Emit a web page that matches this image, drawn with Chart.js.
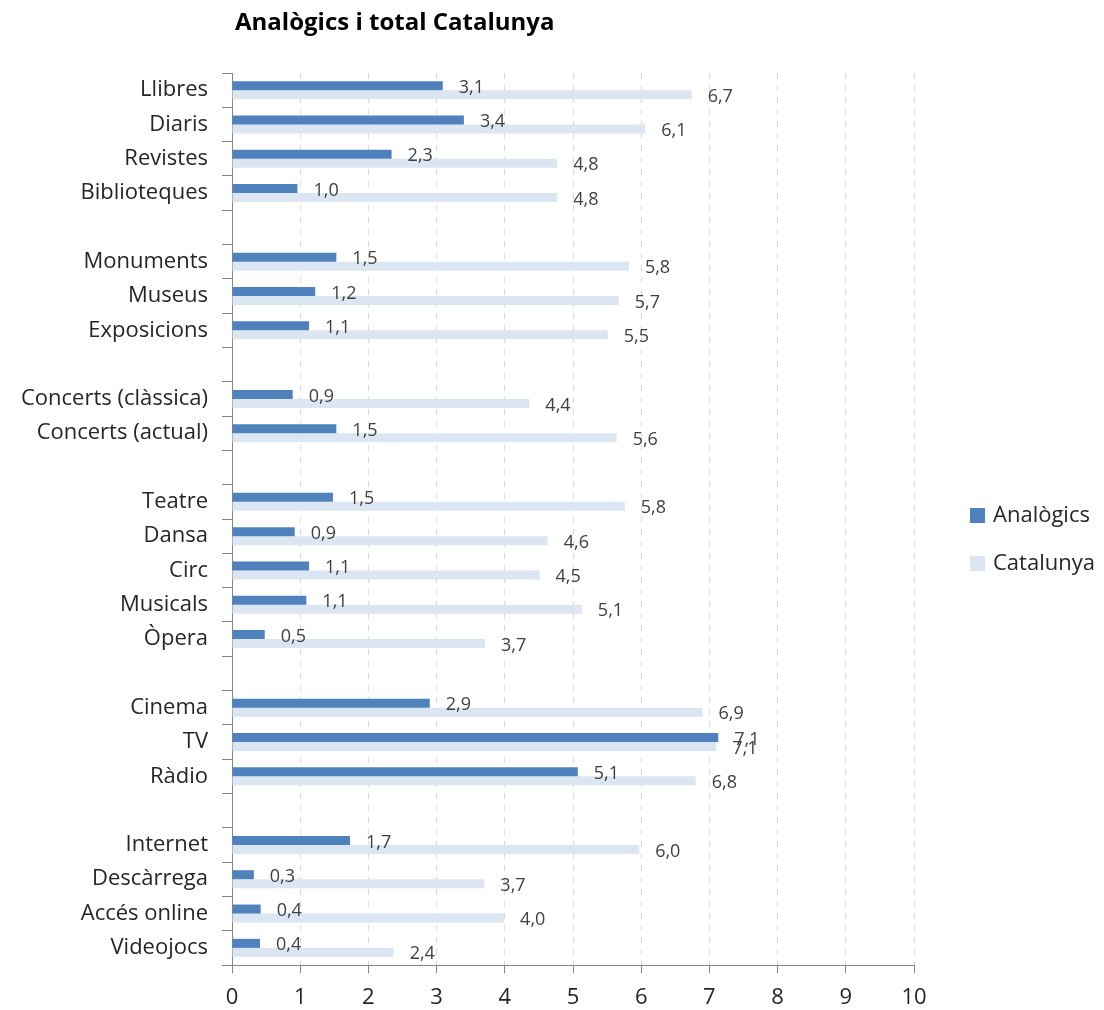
<!DOCTYPE html>
<html>
<head>
<meta charset="utf-8">
<script src="https://cdn.jsdelivr.net/npm/chart.js@4/dist/chart.umd.min.js"></script>
<style>
  body { margin: 0; background: #fff; }
  #wrap { position: relative; width: 1104px; height: 1010px; font-family: 'Open Sans', sans-serif; }
  #title { position: absolute; left: 235px; top: 4px; font-size: 24px; font-weight: bold; color: #000; }
  #legend { position: absolute; left: 970px; top: 498px; font-size: 22px; color: #262626; }
  #legend div { height: 48px; line-height: 31px; white-space: nowrap; }
  #legend span { display: inline-block; width: 15px; height: 15px; margin-right: 8px; vertical-align: -1px; }
</style>
</head>
<body>
<div id="wrap">
  <canvas id="chart" width="1104" height="1010"></canvas>
  <div id="title">Analògics i total Catalunya</div>
  <div id="legend"></div>
</div>
<script>
// Categories (empty strings are the gaps between groups)
const categories = [
    'Llibres', 'Diaris', 'Revistes', 'Biblioteques', '',
    'Monuments', 'Museus', 'Exposicions', '',
    'Concerts (clàssica)', 'Concerts (actual)', '',
    'Teatre', 'Dansa', 'Circ', 'Musicals', 'Òpera', '',
    'Cinema', 'TV', 'Ràdio', '',
    'Internet', 'Descàrrega', 'Accés online', 'Videojocs'
];

const analogics = [
    3.09, 3.40, 2.34, 0.96, null,
    1.53, 1.22, 1.13, null,
    0.89, 1.53, null,
    1.48, 0.92, 1.13, 1.09, 0.48, null,
    2.90, 7.13, 5.07, null,
    1.73, 0.32, 0.42, 0.41
];

const catalunya = [
    6.74, 6.06, 4.77, 4.77, null,
    5.82, 5.67, 5.51, null,
    4.36, 5.64, null,
    5.76, 4.63, 4.51, 5.13, 3.71, null,
    6.90, 7.10, 6.80, null,
    5.97, 3.70, 3.99, 2.37
];

const xTicks = [0, 1, 2, 3, 4, 5, 6, 7, 8, 9, 10];

const colors = {
    analogics: '#4F81BD',
    catalunya: '#DCE6F2',
    axis: '#868686',
    grid: '#D9D9D9',
    text: '#262626'
};

const fontFamily = "'Open Sans', sans-serif";

// Etiquetes de valor a la dreta de cada barra
const valueLabels = {
    id: 'valueLabels',
    afterDatasetsDraw(chart) {
        const ctx = chart.ctx;
        ctx.save();
        ctx.font = '18px ' + fontFamily;
        ctx.fillStyle = '#404040';
        ctx.textBaseline = 'middle';
        ctx.textAlign = 'left';
        chart.data.datasets.forEach((ds, i) => {
            chart.getDatasetMeta(i).data.forEach((bar, j) => {
                const v = ds.data[j];
                if (v === null) return;
                const txt = v.toFixed(1).replace('.', ',');
                ctx.fillText(txt, bar.x + 16, bar.y + 2);
            });
        });
        ctx.restore();
    }
};

const chart = new Chart(document.getElementById('chart'), {
    type: 'bar',
    data: {
        labels: categories,
        datasets: [
            { label: 'Analògics', data: analogics, backgroundColor: colors.analogics },
            { label: 'Catalunya', data: catalunya, backgroundColor: colors.catalunya }
        ]
    },
    options: {
        indexAxis: 'y',
        responsive: false,
        animation: false,
        layout: { padding: { top: 73, right: 190, left: 0, bottom: 0 } },
        datasets: { bar: { categoryPercentage: 0.525, barPercentage: 1 } },
        plugins: {
            legend: { display: false },
            tooltip: { enabled: false }
        },
        scales: {
            x: {
                min: 0,
                max: 10,
                afterBuildTicks(scale) {
                    scale.ticks = xTicks.map(v => ({ value: v }));
                },
                afterFit(scale) { scale.height = 45; },
                grid: {
                    color: colors.grid,
                    tickColor: colors.axis,
                    tickLength: 8
                },
                border: { color: colors.axis, dash: [6, 6] },
                ticks: {
                    color: colors.text,
                    padding: 12,
                    font: { family: fontFamily, size: 22 }
                }
            },
            y: {
                afterFit(scale) { scale.width = 232; },
                grid: {
                    offset: true,
                    drawOnChartArea: false,
                    color: colors.axis,
                    tickLength: 10
                },
                border: { color: colors.axis },
                ticks: {
                    color: colors.text,
                    padding: 14,
                    autoSkip: false,
                    font: { family: fontFamily, size: 22 }
                }
            }
        }
    },
    plugins: [valueLabels]
});

// Llegenda
const legendEl = document.getElementById('legend');
chart.data.datasets.forEach(ds => {
    const row = document.createElement('div');
    const box = document.createElement('span');
    box.style.background = ds.backgroundColor;
    row.appendChild(box);
    row.appendChild(document.createTextNode(ds.label));
    legendEl.appendChild(row);
});
</script>
</body>
</html>
